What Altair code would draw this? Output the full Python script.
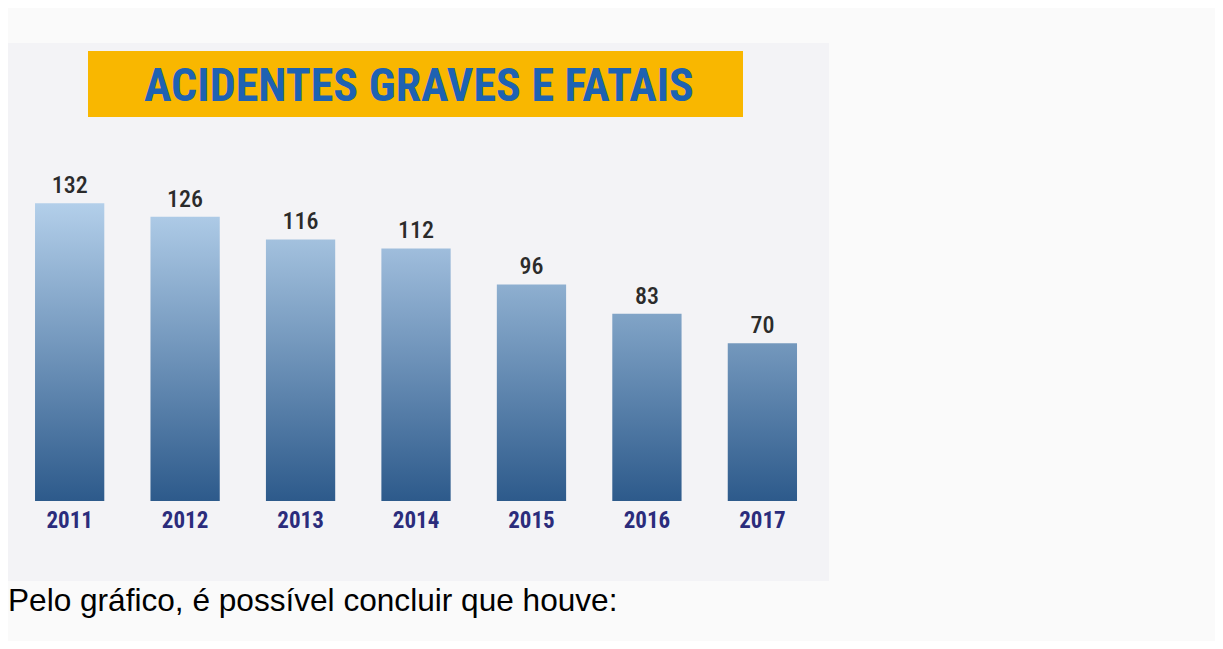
import altair as alt
import pandas as pd

# ---- data ----
years = ["2011", "2012", "2013", "2014", "2015", "2016", "2017"]
values = [132, 126, 116, 112, 96, 83, 70]
title_text = "ACIDENTES GRAVES E FATAIS"
caption_text = "Pelo gráfico, é possível concluir que houve:"

df = pd.DataFrame({"ano": years, "valor": values})
one = pd.DataFrame({"t": [0]})

# ---- styling ----
VIEW_W, VIEW_H = 821, 493
PAD = {"left": 0, "top": 0, "right": 1207 - VIEW_W, "bottom": 633 - VIEW_H}
Y_MAX = 218.6
NARROW = "Roboto Condensed, Open Sans Condensed, DejaVu Sans Condensed, sans-serif"
TOP_RGB = (179, 207, 234)
BOT_RGB = (45, 90, 139)


def mix(t):
    c = [round(b + (a - b) * t) for a, b in zip(TOP_RGB, BOT_RGB)]
    return "#%02x%02x%02x" % tuple(c)


x_enc = alt.X(
    "ano:N",
    scale=alt.Scale(domain=years, paddingInner=0.4, paddingOuter=0.2555, align=0.458),
    axis=alt.Axis(
        title=None, ticks=False, tickSize=0, domain=False, grid=False, labelAngle=0,
        labelFont=NARROW, labelFontSize=23, labelFontWeight="bold", zindex=1,
        labelColor="#2b2c7c", labelPadding=26, labelBaseline="alphabetic",
    ),
)
y_enc = alt.Y("valor:Q", scale=alt.Scale(domain=[0, Y_MAX], nice=False, zero=True), axis=None)

panel = alt.Chart(one).mark_rect(color="#f3f3f6").encode(
    x=alt.value(0), x2=alt.value(VIEW_W), y=alt.value(35), y2=alt.value(573)
)
banner = alt.Chart(one).mark_rect(color="#f9b700").encode(
    x=alt.value(80), x2=alt.value(735), y=alt.value(43), y2=alt.value(109)
)
title = alt.Chart(one).mark_text(
    text=title_text, font=NARROW, fontSize=46, fontWeight="bold", color="#1e62b2",
    align="center", baseline="alphabetic",
).encode(x=alt.value(411), y=alt.value(93))

vmax = max(values)
bars = []
for yr, v in zip(years, values):
    grad = {
        "gradient": "linear", "x1": 0, "x2": 0, "y1": 0, "y2": 1,
        "stops": [{"offset": 0, "color": mix(v / vmax)}, {"offset": 1, "color": mix(0)}],
    }
    bars.append(
        alt.Chart(df).transform_filter(alt.datum.ano == yr).mark_bar(color=grad).encode(x=x_enc, y=y_enc)
    )

labels = alt.Chart(df).mark_text(
    font=NARROW, fontSize=24, fontWeight=500, color="#2b2b2b", baseline="alphabetic", dy=-10
).encode(x=x_enc, y=y_enc, text="valor:Q")

caption = alt.Chart(one).mark_text(
    text=caption_text, font="Liberation Sans, Arial, sans-serif", fontSize=31.6,
    color="#000000", align="left", baseline="alphabetic",
).encode(x=alt.value(0), y=alt.value(603))

chart = alt.layer(panel, banner, title, *bars, labels, caption).properties(
    width=VIEW_W, height=VIEW_H, background="#fafafa", padding=PAD,
    autosize=alt.AutoSizeParams(type="none"),
).configure_view(stroke=None)

chart.save("out.html", embed_options={"renderer": "svg", "actions": False})
